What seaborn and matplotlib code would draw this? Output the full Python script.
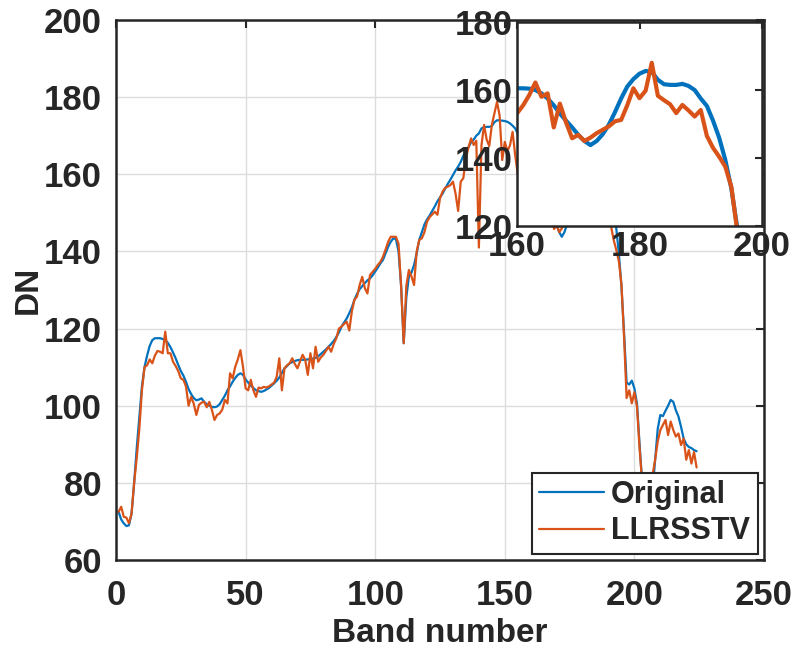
import numpy as np
import pandas as pd
import seaborn as sns
import matplotlib
matplotlib.use("Agg")
import matplotlib.pyplot as plt

# Band numbers 1..224
bands = list(range(1, 225))

original = [
    72.5, 70.5, 69.5, 68.8, 69.0, 72.0, 80.0, 89.0, 97.0, 105.0,
    110.0, 113.0, 115.5, 117.0, 117.5, 117.5, 117.5, 117.3, 117.0, 116.3,
    115.2, 113.8, 112.3, 110.6, 109.0, 107.8, 106.2, 104.3, 103.0, 102.0,
    101.4, 101.6, 101.9, 101.0, 100.4, 100.0, 99.7, 99.6, 99.8, 100.4,
    101.5, 102.6, 104.0, 105.0, 106.2, 107.2, 108.0, 108.4, 108.0, 106.8,
    106.0, 105.2, 104.6, 104.0, 103.8, 103.6, 103.8, 104.2, 104.6, 105.2,
    105.8, 106.5, 107.3, 108.5, 109.7, 110.3, 111.0, 111.3, 111.6, 111.8,
    111.9, 111.9, 111.9, 112.0, 112.1, 112.2, 112.4, 112.8, 113.4, 114.0,
    114.6, 115.3, 116.0, 116.8, 117.8, 119.0, 120.5, 121.6, 122.6, 124.0,
    125.5, 127.5, 129.0, 130.2, 131.0, 131.8, 132.5, 133.0, 133.8, 134.8,
    135.8, 136.9, 137.8, 139.5, 141.2, 142.5, 143.4, 143.2, 140.0, 131.0,
    116.2, 128.0, 133.5, 134.5, 136.5, 139.5, 143.0, 145.0, 147.0, 148.3,
    149.3, 150.5, 151.7, 153.0, 154.0, 155.0, 156.3, 157.5, 158.6, 159.8,
    161.0, 162.0, 163.2, 164.8, 166.0, 167.0, 168.3, 169.0, 170.0, 170.6,
    171.9, 172.2, 172.3, 172.3, 172.5, 173.5, 174.0, 174.0, 173.9, 173.8,
    173.6, 173.2, 172.6, 171.9, 170.5, 168.5, 166.0, 163.5, 161.5, 160.5,
    160.5, 160.4, 160.0, 159.0, 157.5, 155.5, 153.1, 151.0, 149.0, 146.8,
    145.0, 143.8, 145.0, 147.0, 149.8, 153.5, 157.5, 161.0, 163.2, 164.8,
    165.6, 165.3, 163.0, 161.7, 161.5, 161.5, 161.8, 161.2, 160.0, 157.5,
    155.3, 151.0, 146.0, 139.5, 131.0, 119.0, 106.0, 105.5, 106.5, 104.5,
    100.5, 90.0, 80.0, 72.0, 68.0, 70.0, 78.0, 86.0, 94.0, 97.6,
    97.3, 98.7, 100.0, 101.5, 101.0, 98.8, 97.2, 94.5, 91.5, 90.0,
    89.3, 89.0, 88.5, 88.2,
]

llrsstv = [
    72.5, 73.8, 71.2, 71.0, 69.5, 72.0, 80.0, 86.5, 94.0, 104.0,
    110.0, 110.5, 112.0, 111.0, 113.0, 114.2, 114.0, 113.6, 119.2, 113.6,
    113.6, 111.4, 110.3, 109.0, 107.1, 106.7, 105.0, 100.0, 102.3, 100.5,
    97.6, 100.2, 100.8, 101.0, 99.6, 101.0, 98.9, 96.3, 97.6, 98.0,
    99.0, 101.5, 100.6, 108.4, 107.1, 110.1, 112.0, 114.4, 110.1, 104.5,
    104.0, 106.7, 104.0, 102.3, 104.7, 104.5, 104.9, 104.7, 105.0, 105.5,
    106.0, 107.5, 112.3, 104.0, 109.7, 110.5, 111.0, 112.3, 110.8, 109.7,
    111.5, 113.2, 111.9, 108.0, 113.6, 109.7, 115.3, 111.4, 112.5, 113.2,
    114.2, 115.3, 114.0, 116.0, 117.5, 120.0, 120.5, 121.2, 121.8, 119.5,
    124.5, 127.5, 128.3, 131.3, 133.4, 130.5, 129.1, 133.9, 134.7, 135.5,
    136.5, 137.3, 138.6, 140.5, 142.5, 143.8, 143.8, 143.8, 142.0, 130.9,
    116.2, 131.0, 135.2, 133.5, 131.3, 140.0, 143.0, 143.4, 145.0, 147.7,
    148.9, 149.6, 150.3, 149.5, 153.8, 155.5, 156.5, 156.8, 157.2, 158.1,
    155.0, 150.5, 158.1, 159.0, 164.2, 167.0, 169.3, 167.6, 168.7, 141.0,
    167.5, 172.8, 169.0, 167.3, 172.8, 175.8, 178.8, 175.2, 163.7, 168.4,
    166.0, 167.5, 171.0, 165.0, 160.0, 162.0, 158.5, 155.5, 154.0, 153.1,
    155.5, 158.5, 162.2, 158.0, 159.0, 149.0, 156.0, 150.5, 145.8, 146.8,
    145.0, 146.0, 147.3, 148.3, 149.3, 150.8, 151.2, 155.5, 160.5, 157.6,
    159.8, 168.0, 158.3, 157.0, 155.8, 153.2, 155.6, 154.0, 152.2, 154.1,
    146.5, 143.0, 140.4, 137.5, 131.5, 118.0, 102.0, 104.0, 100.6, 103.5,
    99.7, 89.0, 80.0, 72.0, 68.0, 70.0, 82.0, 86.0, 90.7, 93.7,
    95.0, 96.3, 92.4, 95.9, 93.7, 92.0, 92.8, 89.8, 91.5, 86.0,
    88.5, 85.0, 88.0, 84.0,
]

series_names = ["Original", "LLRSSTV"]
colors = ["#0072BD", "#D95319"]

main_xticks = [0, 50, 100, 150, 200, 250]
main_yticks = [60, 80, 100, 120, 140, 160, 180, 200]
inset_xticks = [160, 180, 200]
inset_yticks = [120, 140, 160, 180]

df = pd.DataFrame({
    "Band": bands * 2,
    "DN": original + llrsstv,
    "Method": [series_names[0]] * len(bands) + [series_names[1]] * len(bands),
})

sns.set_theme(style="white")
plt.rcParams["font.family"] = ["Liberation Sans", "DejaVu Sans"]
plt.rcParams["font.weight"] = "bold"
plt.rcParams["axes.labelweight"] = "bold"

TXT = "#262626"
TICK_FS = 25

fig = plt.figure(figsize=(7.91, 6.56), dpi=100)
ax = fig.add_axes([116 / 791, 1 - 560 / 656, (764 - 116) / 791, (560 - 20) / 656])

palette = dict(zip(series_names, colors))
sns.lineplot(data=df, x="Band", y="DN", hue="Method", palette=palette,
             linewidth=1.6, ax=ax, legend=True)

ax.set_xlim(0, 250)
ax.set_ylim(60, 200)
ax.set_xticks(main_xticks)
ax.set_yticks(main_yticks)
ax.set_xlabel("Band number", fontsize=24, fontweight="bold", color=TXT, labelpad=4)
ax.set_ylabel("DN", fontsize=24, fontweight="bold", color=TXT)
ax.yaxis.set_label_coords(-0.112, 0.5)
ax.grid(True, color="#dcdcdc", linewidth=1.0)
ax.set_axisbelow(True)
ax.tick_params(axis="both", direction="in", length=6, width=1.5, labelsize=TICK_FS,
               colors=TXT, top=True, right=True)
ax.tick_params(axis="x", pad=14)
ax.tick_params(axis="y", pad=10)
for lab in ax.get_xticklabels() + ax.get_yticklabels():
    lab.set_fontweight("bold")
for sp in ax.spines.values():
    sp.set_visible(True)
    sp.set_color(TXT)
    sp.set_linewidth(1.8)

leg = ax.legend(loc="lower right", fontsize=22, frameon=True, fancybox=False,
                framealpha=1.0, borderaxespad=0.2, handlelength=2.1,
                handletextpad=0.25, borderpad=0.25, labelspacing=0.2)
leg.get_frame().set_edgecolor(TXT)
leg.get_frame().set_linewidth(1.5)
leg.set_zorder(10)
for t in leg.get_texts():
    t.set_fontweight("bold")
    t.set_color(TXT)
for h in leg.get_lines():
    h.set_linewidth(1.6)

# Inset
axin = fig.add_axes([517 / 791, 1 - 226 / 656, (762 - 517) / 791, (226 - 22) / 656])
axin.set_facecolor("white")
sns.lineplot(data=df, x="Band", y="DN", hue="Method", palette=palette,
             linewidth=3.0, ax=axin, legend=False)
axin.set_xlim(160, 200)
axin.set_ylim(120, 180)
axin.set_xticks(inset_xticks)
axin.set_yticks(inset_yticks)
axin.set_xlabel("")
axin.set_ylabel("")
axin.grid(False)
axin.tick_params(axis="both", direction="in", length=5, width=1.5, labelsize=TICK_FS,
                 colors=TXT, top=True, right=True, pad=3)
for lab in axin.get_xticklabels() + axin.get_yticklabels():
    lab.set_fontweight("bold")
for sp in axin.spines.values():
    sp.set_visible(True)
    sp.set_color(TXT)
    sp.set_linewidth(1.8)

fig.savefig("out.png", dpi=100)
